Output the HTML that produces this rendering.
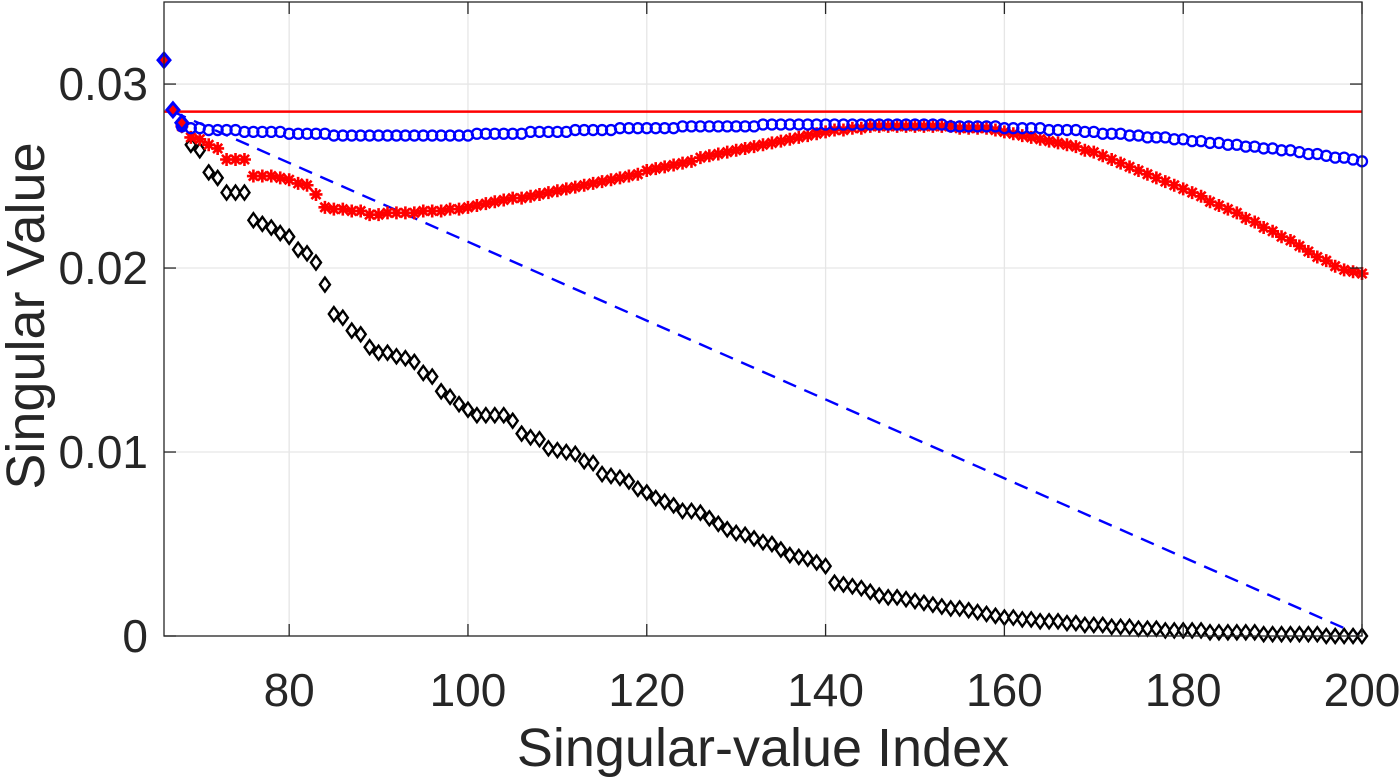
<!DOCTYPE html>
<html><head><meta charset="utf-8"><style>
html,body{margin:0;padding:0;background:#fff;}
svg{display:block;font-family:"Liberation Sans",Arial,sans-serif;}
</style></head><body>
<svg id="chart" width="1400" height="778" viewBox="0 0 1400 778" xmlns="http://www.w3.org/2000/svg"></svg>
<script>
const xTicks=[80,100,120,140,160,180,200];
const yTicks=[0,0.01,0.02,0.03];
const yTickLabels=["0","0.01","0.02","0.03"];
const startIndex=68;
const headValues=[0.0313,0.0286,0.0279];
const thresholdValue=0.0285;
const dashStart=[67,0.0285];
const dashEnd=[200,0];
const redStars=[.0277,
.0271,.0270,.0267,.0265,.0259,.0259,.0259,.0250,.0250,
.0250,.0249,.0248,.0246,.0245,.0240,.0233,.0232,.0232,.0231,
.0231,.0229,.0229,.0230,.0230,.0230,.0230,.0231,.0231,.0231,
.0232,.0232,.0233,.0234,.0235,.0236,.0237,.0238,.0238,.0239,
.0240,.0241,.0242,.0243,.0244,.0245,.0246,.0247,.0248,.0249,
.0250,.0251,.0253,.0254,.0255,.0256,.0257,.0258,.0260,.0261,
.0262,.0263,.0264,.0265,.0266,.0267,.0268,.0269,.0270,.0271,
.0272,.0273,.0274,.0275,.0275,.0276,.0276,.0277,.0277,.0277,
.0277,.0277,.0277,.0277,.0277,.0277,.0277,.0276,.0276,.0276,
.0276,.0275,.0274,.0273,.0272,.0271,.0270,.0269,.0268,.0267,
.0266,.0264,.0263,.0261,.0259,.0257,.0255,.0253,.0251,.0249,
.0247,.0245,.0243,.0241,.0239,.0236,.0234,.0232,.0230,.0227,
.0225,.0222,.0220,.0217,.0215,.0212,.0209,.0206,.0204,.0201,
.0199,.0198,.0197];
const blueCircles=[.0277,
.0276,.0276,.0275,.0275,.0275,.0275,.0274,.0274,.0274,
.0274,.0274,.0273,.0273,.0273,.0273,.0273,.0272,.0272,.0272,
.0272,.0272,.0272,.0272,.0272,.0272,.0272,.0272,.0272,.0272,
.0272,.0272,.0272,.0273,.0273,.0273,.0273,.0273,.0273,.0274,
.0274,.0274,.0274,.0274,.0275,.0275,.0275,.0275,.0275,.0276,
.0276,.0276,.0276,.0276,.0276,.0276,.0277,.0277,.0277,.0277,
.0277,.0277,.0277,.0277,.0277,.0278,.0278,.0278,.0278,.0278,
.0278,.0278,.0278,.0278,.0278,.0278,.0278,.0278,.0278,.0278,
.0278,.0278,.0278,.0278,.0278,.0278,.0277,.0277,.0277,.0277,
.0277,.0277,.0276,.0276,.0276,.0276,.0276,.0275,.0275,.0275,
.0275,.0274,.0274,.0273,.0273,.0273,.0272,.0272,.0271,.0271,
.0271,.0270,.0270,.0269,.0269,.0268,.0268,.0267,.0267,.0266,
.0266,.0265,.0265,.0264,.0264,.0263,.0262,.0262,.0261,.0260,
.0260,.0259,.0258];
const blackDiamonds=[.0278,
.0267,.0264,.0252,.0249,.0241,.0241,.0241,.0226,.0224,
.0222,.0219,.0217,.0210,.0208,.0203,.0191,.0175,.0173,.0166,
.0164,.0157,.0154,.0154,.0152,.0151,.0149,.0143,.0141,.0133,
.0130,.0126,.0123,.0120,.0120,.0120,.0120,.0117,.0110,.0108,
.0107,.0102,.0101,.0100,.0099,.0095,.0094,.0088,.0087,.0086,
.0084,.0080,.0078,.0075,.0073,.0071,.0068,.0068,.0067,.0064,
.0061,.0058,.0056,.0055,.0053,.0051,.0050,.0047,.0044,.0043,
.0042,.0040,.0038,.0029,.0028,.0027,.0026,.0024,.0022,.0021,
.0021,.0020,.0019,.0018,.0017,.0016,.0015,.0015,.0014,.0013,
.0012,.0011,.0010,.0010,.0009,.0009,.0008,.0008,.0008,.0007,
.0007,.0006,.0006,.0006,.0005,.0005,.0005,.0004,.0004,.0004,
.0003,.0003,.0003,.0003,.0003,.0002,.0002,.0002,.0002,.0002,
.0002,.0001,.0001,.0001,.0001,.0001,.0001,.0001,.0000,.0000,
.0000,.0000,.0000];

const NS="http://www.w3.org/2000/svg";
const svg=document.getElementById('chart');
const L=164,R=1362,T=2,B=636,XMIN=66,XMAX=200,YMIN=0,YMAX=0.03446;
function xs(v){return L+(v-XMIN)/(XMAX-XMIN)*(R-L);}
function ys(v){return B-(v-YMIN)/(YMAX-YMIN)*(B-T);}
function mk(tag,attrs,parent){const e=document.createElementNS(NS,tag);for(const k in attrs)e.setAttribute(k,attrs[k]);(parent||svg).appendChild(e);return e;}

const grid=mk('g',{});


xTicks.forEach(t=>{mk('line',{x1:xs(t),x2:xs(t),y1:T,y2:B,stroke:'#e6e6e6','stroke-width':1.3},grid);});
yTicks.forEach(t=>{mk('line',{x1:L,x2:R,y1:ys(t),y2:ys(t),stroke:'#e6e6e6','stroke-width':1.3},grid);});

const plot=mk('g',{});



const thr=mk('line',{x1:xs(XMIN),x2:xs(XMAX),y1:ys(thresholdValue),y2:ys(thresholdValue),stroke:'#ff0000','stroke-width':2.5},plot);



const dash=mk('line',{x1:xs(dashStart[0]),y1:ys(dashStart[1]),x2:xs(dashEnd[0]),y2:ys(dashEnd[1]),stroke:'#0000ff','stroke-width':2.4,'stroke-dasharray':'14,9'},plot);



const gb=mk('g',{},plot);


blackDiamonds.forEach((v,i)=>{const x=xs(startIndex+i),y=ys(v),s=7;
 mk('path',{d:`M${x},${y-s}L${x+s*0.72},${y}L${x},${y+s}L${x-s*0.72},${y}Z`,fill:'#fff',stroke:'#000','stroke-width':2.4},gb);});

const gr=mk('g',{},plot);


redStars.forEach((v,i)=>{const x=xs(startIndex+i),y=ys(v),s=6.5;
 let d='';for(let a=0;a<4;a++){const ang=a*Math.PI/4;d+=`M${x-s*Math.cos(ang)},${y-s*Math.sin(ang)}L${x+s*Math.cos(ang)},${y+s*Math.sin(ang)}`;}
 mk('path',{d:d,stroke:'#ff0000','stroke-width':2.6},gr);});

const gc=mk('g',{},plot);


blueCircles.forEach((v,i)=>{mk('circle',{cx:xs(startIndex+i),cy:ys(v),r:5,fill:'none',stroke:'#0000ff','stroke-width':2.3},gc);});

const gh=mk('g',{},plot);


headValues.forEach((v,i)=>{const x=xs(XMIN+i),y=ys(v),s=7;
 mk('path',{d:`M${x},${y-s}L${x+s*0.85},${y}L${x},${y+s}L${x-s*0.85},${y}Z`,fill:'#ff0000',stroke:'#0000ff','stroke-width':3},gh);});

const ax=mk('g',{});


mk('rect',{x:L,y:T,width:R-L,height:B-T,fill:'none',stroke:'#262626','stroke-width':1.3},ax);
xTicks.forEach(t=>{mk('line',{x1:xs(t),x2:xs(t),y1:B,y2:B-12,stroke:'#262626','stroke-width':1.3},ax);
 mk('line',{x1:xs(t),x2:xs(t),y1:T,y2:T+12,stroke:'#262626','stroke-width':1.3},ax);
 const tx=mk('text',{x:xs(t),y:706,'text-anchor':'middle','font-size':46,fill:'#262626'},ax);tx.textContent=t;
 
 });
yTicks.forEach((t,i)=>{mk('line',{x1:L,x2:L+12,y1:ys(t),y2:ys(t),stroke:'#262626','stroke-width':1.3},ax);
 mk('line',{x1:R,x2:R-12,y1:ys(t),y2:ys(t),stroke:'#262626','stroke-width':1.3},ax);
 const tx=mk('text',{x:148,y:ys(t)+16,'text-anchor':'end','font-size':46,fill:'#262626'},ax);tx.textContent=yTickLabels[i];
 
 });
const xl=mk('text',{x:763,y:766,'text-anchor':'middle','font-size':54,fill:'#262626'});
xl.textContent='Singular-value Index';


const yl=mk('text',{x:0,y:0,'text-anchor':'middle','font-size':54,fill:'#262626',transform:'translate(44,316) rotate(-90)'});
yl.textContent='Singular Value';


</script>
</body></html>
